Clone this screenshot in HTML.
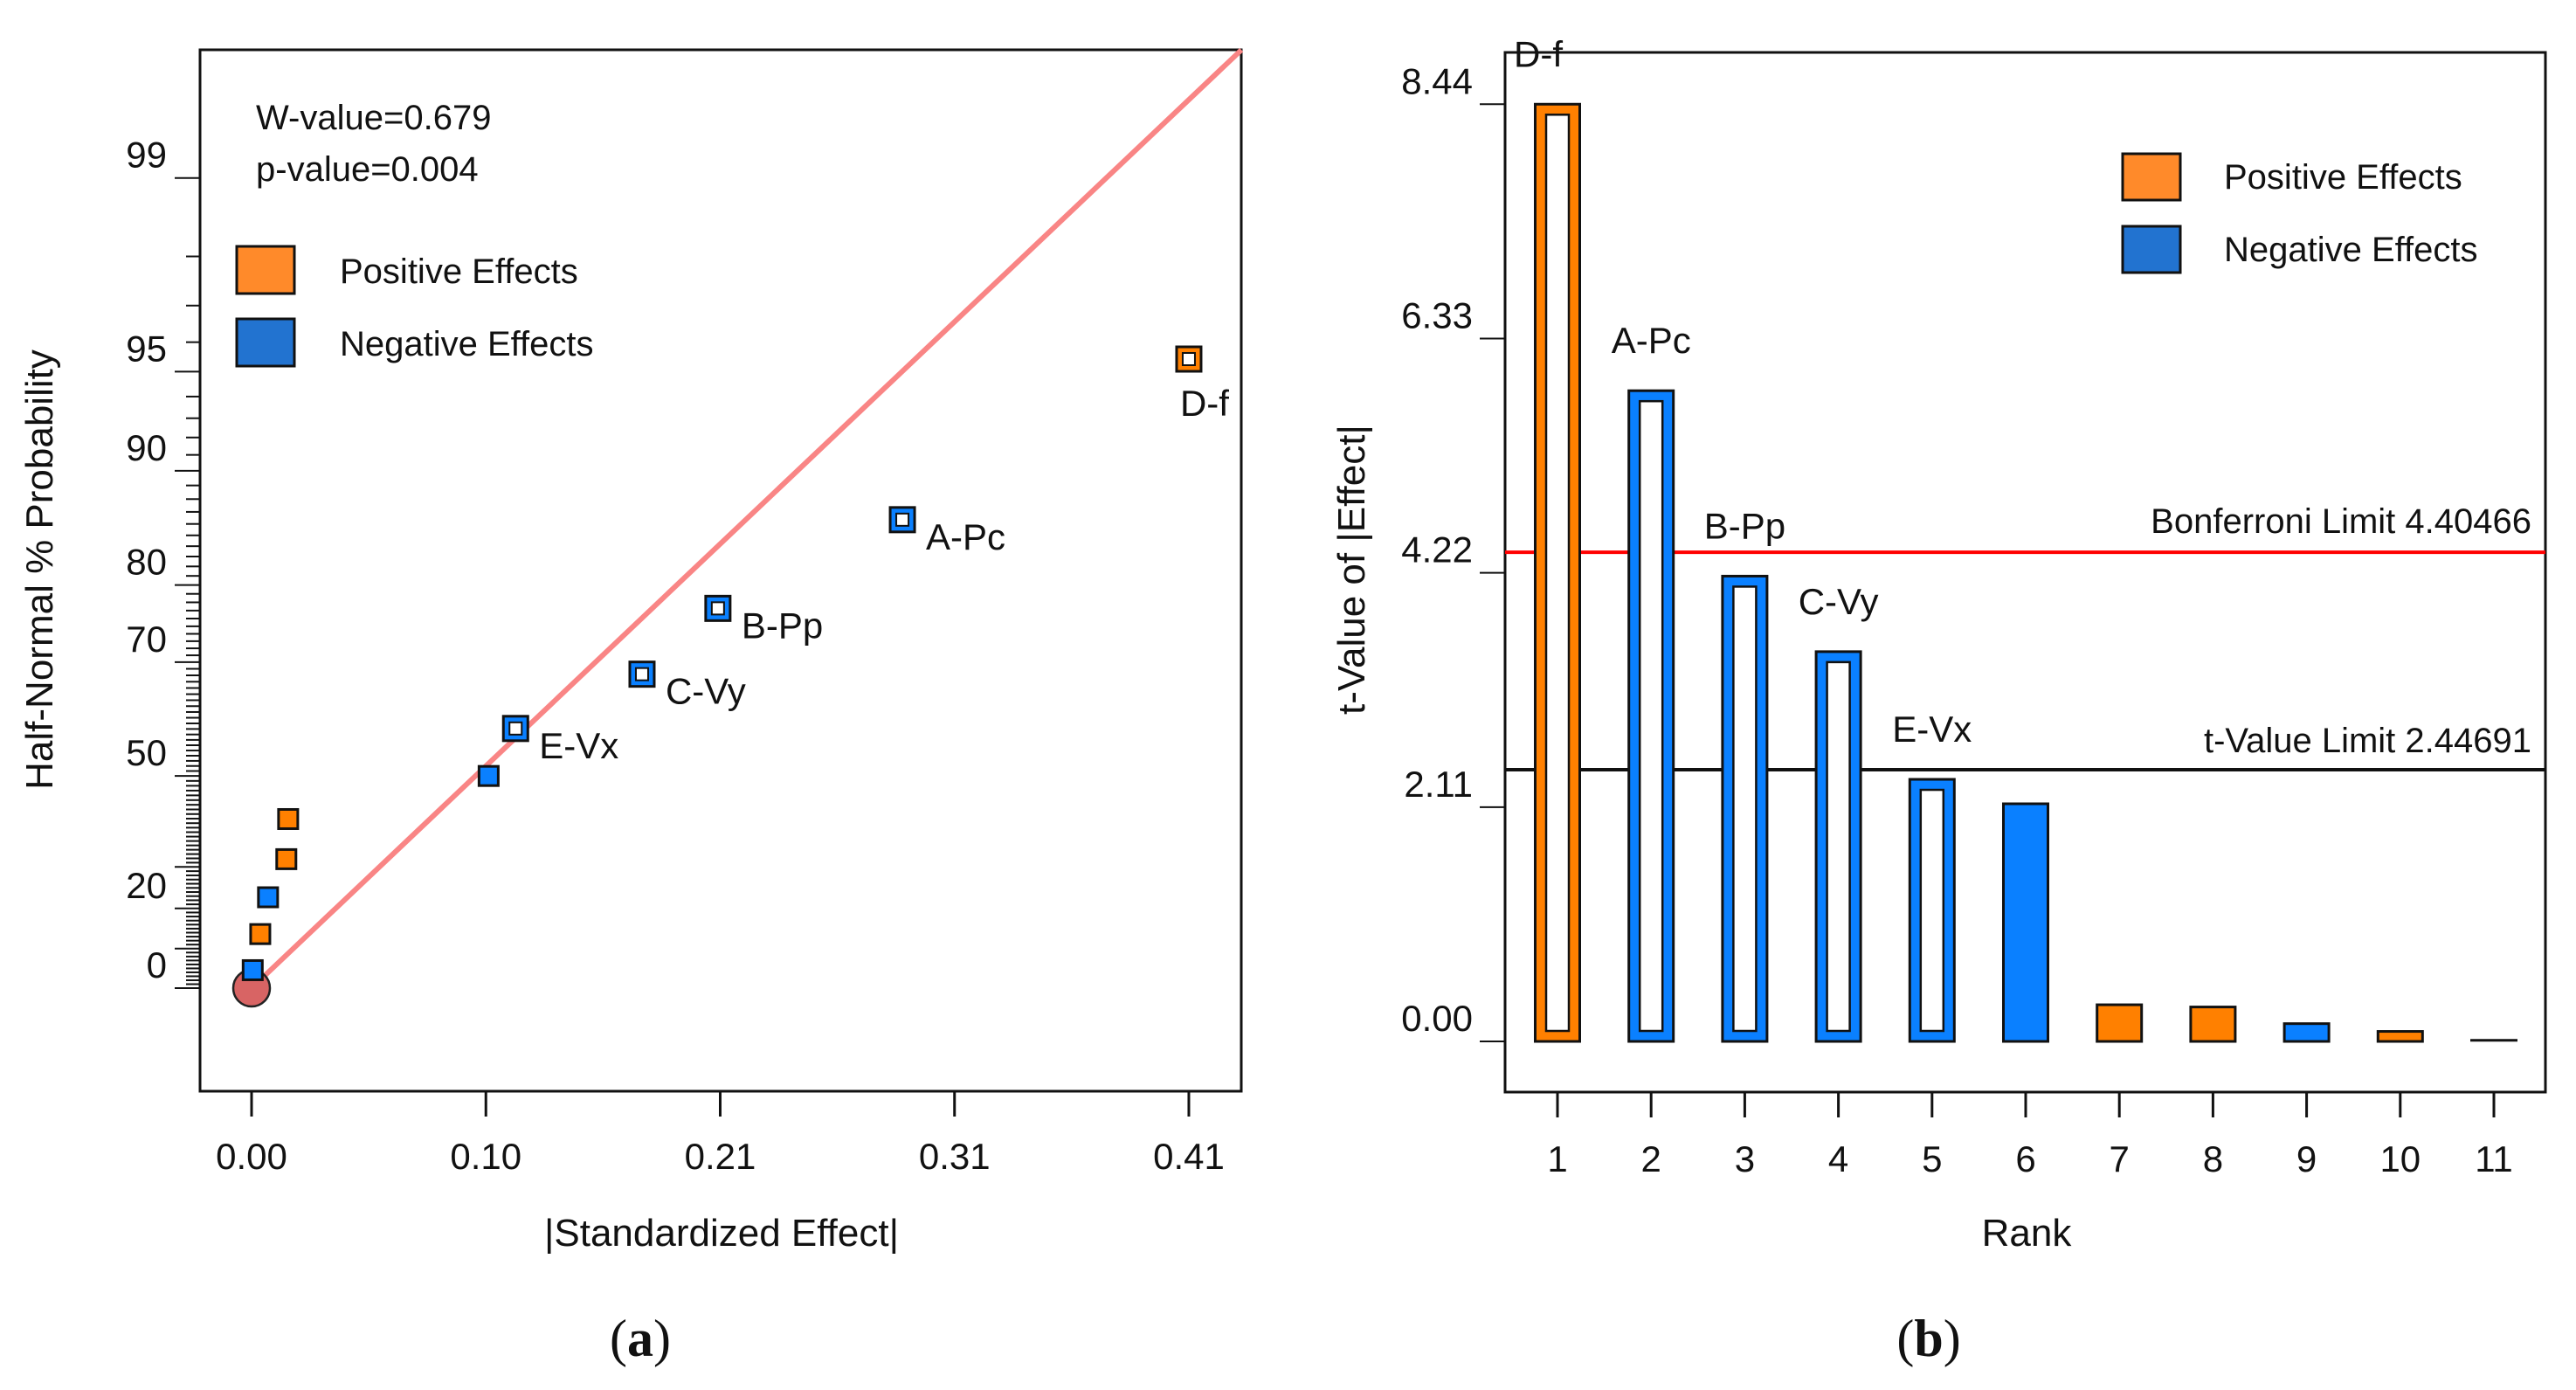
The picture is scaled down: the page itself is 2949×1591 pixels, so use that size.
<!DOCTYPE html>
<html><head><meta charset="utf-8"><style>
html,body{margin:0;padding:0;background:#fff}
svg{display:block}
text{font-family:"Liberation Sans",sans-serif;fill:#111}
</style></head><body>
<svg id="chart" width="2949" height="1591" viewBox="0 0 2949 1591" xmlns="http://www.w3.org/2000/svg">
<g id="pa"></g>
<g id="pb"></g>
</svg>
<script>
// ---- Panel (a) data ----
const aLabels = ["D-f","A-Pc","B-Pp","C-Vy","E-Vx","","","","","",""];
const aEffects = [0.41,0.2847,0.204,0.1708,0.1155,0.1037,0.016,0.0152,0.0072,0.0038,0.0005];
const aProbs = [95.45,86.36,77.27,68.18,59.09,50,40.91,31.82,22.73,13.64,4.55];
const aSigns = ["pos","neg","neg","neg","neg","neg","pos","pos","neg","pos","neg"];
const aXTicks = [0,0.1025,0.205,0.3075,0.41];
const aXTickLabels = ["0.00","0.10","0.21","0.31","0.41"];
const aYTicks = [0,20,50,70,80,90,95,99];
const aLineEffect = [0,0.433];
const aLineZ = [0,2.983];
// ---- Panel (b) data ----
const bRanks = [1,2,3,4,5,6,7,8,9,10,11];
const bValues = [8.44,5.86,4.19,3.51,2.36,2.14,0.33,0.31,0.16,0.09,0.01];
const bSigns = ["pos","neg","neg","neg","neg","neg","pos","pos","neg","pos","pos"];
const bLabels = ["D-f","A-Pc","B-Pp","C-Vy","E-Vx","","","","","",""];
const bYTicks = [0,2.11,4.22,6.33,8.44];
const bYTickLabels = ["0.00","2.11","4.22","6.33","8.44"];
const bBonferroni = 4.40466;
const bTLimit = 2.44691;

const NS="http://www.w3.org/2000/svg";
function mk(parent,tag,attrs,text){const e=document.createElementNS(NS,tag);for(const k in attrs)e.setAttribute(k,attrs[k]);if(text!==undefined)e.textContent=text;parent.appendChild(e);return e;}
const OR="#ff8000",BL="#0a80ff",LOR="#ff8a2a",LBL="#2273d0";
function erf(x){const s=x<0?-1:1;x=Math.abs(x);const t=1/(1+0.3275911*x);const y=1-(((((1.061405429*t-1.453152027)*t)+1.421413741)*t-0.284496736)*t+0.254829592)*t*Math.exp(-x*x);return s*y;}
function halfZ(p){let lo=0,hi=5;for(let i=0;i<60;i++){const m=(lo+hi)/2;if(erf(m/Math.SQRT2)*100<p)lo=m;else hi=m;}return (lo+hi)/2;}

// ===== Panel A =====
const pa=document.getElementById('pa');
const AX0=288,AXU=2617,AY0=1131,AYU=360;
const ax=v=>AX0+v*AXU, az=z=>AY0-z*AYU, ay=p=>az(halfZ(p));
let e;
e=mk(pa,'rect',{x:229,y:57,width:1192,height:1192,fill:'none',stroke:'#111','stroke-width':3});


for(let p=0;p<=99;p++){
  const major=[0,10,20,30,50,70,80,90,95,99].includes(p);
  e=mk(pa,'line',{x1:major?200:213,x2:229,y1:ay(p),y2:ay(p),stroke:'#111','stroke-width':2});
  
  
}
aYTicks.forEach(p=>{
  e=mk(pa,'text',{x:191,y:ay(p)-12,'font-size':42,'text-anchor':'end'},String(p));
  
  
});
aXTicks.forEach((v,i)=>{
  e=mk(pa,'line',{x1:ax(v),x2:ax(v),y1:1249,y2:1278,stroke:'#111','stroke-width':3});
  
  
  e=mk(pa,'text',{x:ax(v),y:1338,'font-size':42,'text-anchor':'middle'},aXTickLabels[i]);
  
  
});
e=mk(pa,'text',{x:826,y:1426,'font-size':44,'text-anchor':'middle'},'|Standardized Effect|');


e=mk(pa,'text',{x:60,y:652,'font-size':44,'text-anchor':'middle',transform:'rotate(-90 60 652)'},'Half-Normal % Probability');


e=mk(pa,'text',{x:293,y:148,'font-size':40},'W-value=0.679');


e=mk(pa,'text',{x:293,y:207,'font-size':40},'p-value=0.004');


e=mk(pa,'rect',{x:271,y:282,width:66,height:54,fill:LOR,stroke:'#111','stroke-width':3});


e=mk(pa,'text',{x:389,y:324,'font-size':40},'Positive Effects');


e=mk(pa,'rect',{x:271,y:365,width:66,height:54,fill:LBL,stroke:'#111','stroke-width':3});


e=mk(pa,'text',{x:389,y:407,'font-size':40},'Negative Effects');


e=mk(pa,'line',{x1:ax(aLineEffect[0]),y1:az(aLineZ[0]),x2:ax(aLineEffect[1]),y2:az(aLineZ[1]),stroke:'#f98585','stroke-width':6});


e=mk(pa,'circle',{cx:ax(0),cy:ay(0),r:21,fill:'#d86464',stroke:'#222','stroke-width':2.5});


aEffects.forEach((v,i)=>{
  const cx=ax(v),cy=ay(aProbs[i]),col=aSigns[i]==='pos'?OR:BL;
  if(aLabels[i]){
    e=mk(pa,'rect',{x:cx-14,y:cy-14,width:28,height:28,fill:col,stroke:'#111','stroke-width':3});
    
    
    mk(pa,'rect',{x:cx-7,y:cy-7,width:14,height:14,fill:'#fff',stroke:'#111','stroke-width':2});
    const isD=aLabels[i]==='D-f';
    e=mk(pa,'text',{x:isD?cx-10:cx+27,y:isD?cy+65:cy+34,'font-size':42},aLabels[i]);
    
    
  } else {
    e=mk(pa,'rect',{x:cx-11,y:cy-11,width:22,height:22,fill:col,stroke:'#111','stroke-width':3});
    
    
  }
});
e=mk(pa,'text',{x:733,y:1552,'font-size':60,'text-anchor':'middle'});


e.innerHTML='(<tspan font-weight="bold">a</tspan>)';
e.style.fontFamily='"Liberation Serif",serif';

// ===== Panel B =====
const pb=document.getElementById('pb');
const BX1=1783,BXS=107.2,BY0=1192,BYU=127.1;
const bx=r=>BX1+(r-1)*BXS, by=v=>BY0-v*BYU;
e=mk(pb,'rect',{x:1723,y:60,width:1191,height:1190,fill:'none',stroke:'#111','stroke-width':3});


bYTicks.forEach((v,i)=>{
  e=mk(pb,'line',{x1:1694,x2:1723,y1:by(v),y2:by(v),stroke:'#111','stroke-width':2});
  
  
  e=mk(pb,'text',{x:1686,y:by(v)-12,'font-size':42,'text-anchor':'end'},bYTickLabels[i]);
  
  
});
bRanks.forEach(r=>{
  e=mk(pb,'line',{x1:bx(r),x2:bx(r),y1:1250,y2:1279,stroke:'#111','stroke-width':3});
  
  
  e=mk(pb,'text',{x:bx(r),y:1341,'font-size':42,'text-anchor':'middle'},String(r));
  
  
});
e=mk(pb,'text',{x:2320,y:1426,'font-size':44,'text-anchor':'middle'},'Rank');


e=mk(pb,'text',{x:1562,y:652,'font-size':44,'text-anchor':'middle',transform:'rotate(-90 1562 652)'},'t-Value of |Effect|');


e=mk(pb,'line',{x1:1723,x2:2914,y1:by(bBonferroni),y2:by(bBonferroni),stroke:'#f00','stroke-width':4});


e=mk(pb,'text',{x:2898,y:by(bBonferroni)-22,'font-size':40,'text-anchor':'end'},'Bonferroni Limit 4.40466');


e=mk(pb,'line',{x1:1723,x2:2914,y1:by(bTLimit),y2:by(bTLimit),stroke:'#111','stroke-width':4});


e=mk(pb,'text',{x:2898,y:by(bTLimit)-20,'font-size':40,'text-anchor':'end'},'t-Value Limit 2.44691');


bValues.forEach((v,i)=>{
  const r=bRanks[i],cx=bx(r),top=by(v),col=bSigns[i]==='pos'?OR:BL;
  const w=51;
  if(i===10){
    e=mk(pb,'line',{x1:cx-27,x2:cx+27,y1:top,y2:top,stroke:'#111','stroke-width':3});
    
    
    return;
  }
  e=mk(pb,'rect',{x:cx-w/2,y:top,width:w,height:BY0-top,fill:col,stroke:'#111','stroke-width':3});
  
  
  if(bLabels[i]){
    mk(pb,'rect',{x:cx-13,y:top+12,width:26,height:BY0-top-24,fill:'#fff',stroke:'#111','stroke-width':2.5});
    const isD=bLabels[i]==='D-f';
    e=mk(pb,'text',{x:isD?cx-22:cx,y:top-43,'font-size':42,'text-anchor':'middle'},bLabels[i]);
    
    
  }
});
e=mk(pb,'rect',{x:2430,y:176,width:66,height:53,fill:LOR,stroke:'#111','stroke-width':3});


e=mk(pb,'text',{x:2546,y:216,'font-size':40},'Positive Effects');


e=mk(pb,'rect',{x:2430,y:259,width:66,height:53,fill:LBL,stroke:'#111','stroke-width':3});


e=mk(pb,'text',{x:2546,y:299,'font-size':40},'Negative Effects');


e=mk(pb,'text',{x:2208,y:1552,'font-size':60,'text-anchor':'middle'});


e.innerHTML='(<tspan font-weight="bold">b</tspan>)';
e.style.fontFamily='"Liberation Serif",serif';
</script>
</body></html>
